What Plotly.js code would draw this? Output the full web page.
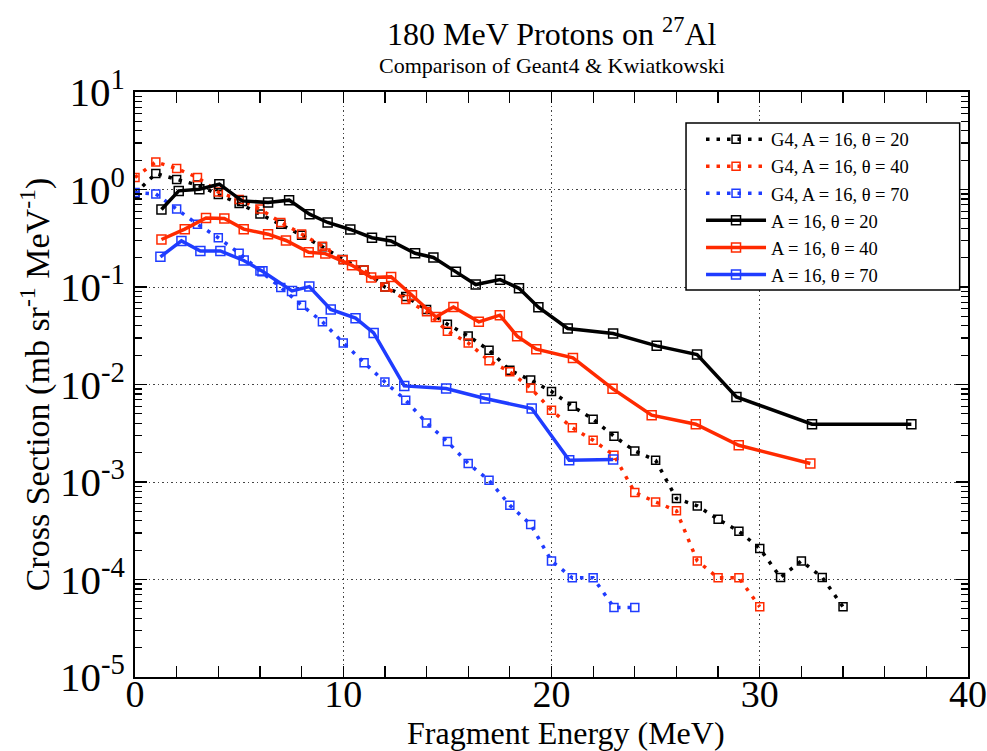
<!DOCTYPE html>
<html>
<head>
<meta charset="utf-8">
<script src="https://cdn.plot.ly/plotly-3.0.1.min.js"></script>
<style>html,body{margin:0;padding:0;background:#fff;}#chart{width:987px;height:751px;}</style>
</head>
<body>
<div id="chart"></div>
<script>
// ---- Data ----
// Geant4 curves (1 MeV bins)
const g4E20 = [0,1,2,3,4,5,6,7,8,9,10,11,12,13,14,15,16,17,18,19,20,21,22,23,24,25,26,27,28,29,30,31,32,33,34];
const g4Y20 = [0.91,1.46,1.27,1.11,0.89,0.72,0.56,0.44,0.34,0.258,0.191,0.149,0.100,0.080,0.0588,0.0415,0.0315,0.0225,0.014,0.0111,0.00848,0.00599,0.0044,0.00295,0.00208,0.00167,0.000678,0.000569,0.000415,0.000313,0.000208,0.000105,0.000155,0.000105,0.0000524];

const g4E40 = [0,1,2,3,4,5,6,7,8,9,10,11,12,13,14,15,16,17,18,19,20,21,22,23,24,25,26,27,28,29,30];
const g4Y40 = [1.33,1.92,1.64,1.33,0.94,0.79,0.63,0.46,0.35,0.262,0.19,0.149,0.100,0.0745,0.0556,0.0352,0.0267,0.0175,0.0135,0.0092,0.00545,0.0036,0.00268,0.00188,0.00078,0.000625,0.000506,0.000155,0.000104,0.000104,0.0000524];

const g4E70 = [0,1,2,3,4,5,6,7,8,9,10,11,12,13,14,15,16,17,18,19,20,21,22,23,24];
const g4Y70 = [0.93,0.90,0.63,0.44,0.32,0.222,0.146,0.099,0.065,0.0439,0.0267,0.0167,0.0106,0.0069,0.00404,0.0026,0.00155,0.00104,0.000578,0.000366,0.000155,0.000104,0.000104,0.0000516,0.0000516];

// Kwiatkowski data
const kwE20 = [1.27,2.10,3.09,4.05,5.14,6.39,7.40,8.38,9.25,10.34,11.38,12.29,13.45,14.33,15.41,16.36,17.53,18.44,19.37,20.78,22.96,25.05,26.99,28.88,32.51,37.28];
const kwY20 = [0.624,0.968,1.007,1.133,0.764,0.736,0.777,0.558,0.459,0.389,0.32,0.297,0.222,0.201,0.143,0.106,0.119,0.097,0.062,0.0375,0.0333,0.0249,0.0203,0.00746,0.00392,0.00392];

const kwE40 = [1.27,2.39,3.41,4.29,5.22,6.39,7.25,8.34,9.14,10.42,11.34,12.30,13.30,14.45,15.29,16.51,17.52,18.35,19.27,21.03,22.93,24.81,26.93,28.99,32.43];
const kwY40 = [0.307,0.392,0.511,0.504,0.392,0.348,0.30,0.227,0.22,0.167,0.125,0.127,0.0824,0.0493,0.0625,0.0439,0.0514,0.0313,0.023,0.01875,0.00906,0.00484,0.00391,0.00238,0.00155];

const kwE70 = [1.22,2.23,3.14,4.10,5.22,6.12,7.54,8.37,9.40,10.59,11.46,12.93,14.94,16.81,19.05,20.85,22.96];
const kwY70 = [0.204,0.297,0.234,0.234,0.187,0.145,0.0912,0.101,0.0588,0.0479,0.0338,0.00968,0.0091,0.00718,0.00567,0.00167,0.0017];

const names = ["G4, A = 16, θ = 20","G4, A = 16, θ = 40","G4, A = 16, θ = 70","A = 16, θ = 20","A = 16, θ = 40","A = 16, θ = 70"];
const xTicks = [0,10,20,30,40];
const xTickText = ["0","10","20","30","40"];
const yTicks = [1e-5,1e-4,1e-3,1e-2,1e-1,1,10];
const yTickText = ["10<sup>-5</sup>","10<sup>-4</sup>","10<sup>-3</sup>","10<sup>-2</sup>","10<sup>-1</sup>","10<sup>0</sup>","10<sup>1</sup>"];

// ---- styling ----
const BLACK = "#000000", RED = "#ff2a00", BLUE = "#1f3cff";
const FONT = "Liberation Serif, Times New Roman, serif";

function g4(x, y, c, n) {
  return {x, y, name: n, type: "scatter", mode: "lines+markers",
    line: {color: c, width: 3.5, dash: "3.5px,7px"},
    marker: {symbol: "square-open", size: 8, color: c, line: {width: 1.5, color: c}}};
}
function kw(x, y, c, n) {
  return {x, y, name: n, type: "scatter", mode: "lines+markers",
    line: {color: c, width: 3.5},
    marker: {symbol: "square-open", size: 9, color: c, line: {width: 1.5, color: c}}};
}

const traces = [
  g4(g4E20, g4Y20, BLACK, names[0]),
  g4(g4E40, g4Y40, RED, names[1]),
  g4(g4E70, g4Y70, BLUE, names[2]),
  kw(kwE20, kwY20, BLACK, names[3]),
  kw(kwE40, kwY40, RED, names[4]),
  kw(kwE70, kwY70, BLUE, names[5])
];

const minorY = [];
for (let d = -5; d < 1; d++) for (let k = 2; k <= 9; k++) minorY.push(k * Math.pow(10, d));

const layout = {
  width: 987, height: 751,
  margin: {l: 135, r: 19, t: 92, b: 74},
  paper_bgcolor: "#fff", plot_bgcolor: "#fff",
  font: {family: FONT, color: "#000"},
  showlegend: true,
  legend: {x: 0.6795, y: 0.951, xanchor: "left", yanchor: "top",
    bgcolor: "rgba(0,0,0,0)", borderwidth: 0,
    font: {family: FONT, size: 18.5, color: "#000"}, itemwidth: 60, tracegroupgap: 0},
  shapes: [
    {type: "rect", xref: "paper", yref: "paper", x0: 0.6615, x1: 0.990, y0: 0.6615, y1: 0.947,
     layer: "above", fillcolor: "#fff", line: {color: "#000", width: 1.5}}
  ],
  xaxis: {range: [0, 40], tickmode: "array", tickvals: xTicks, ticktext: xTickText,
    ticks: "inside", ticklen: 11, tickwidth: 1.2, tickcolor: "#000", ticklabelstandoff: -18,
    mirror: "allticks", showline: true, linewidth: 2, linecolor: "#000",
    showgrid: true, gridcolor: "#444", griddash: "1.5px,3px", gridwidth: 1, zeroline: false,
    minor: {dtick: 2, ticks: "inside", ticklen: 11, tickwidth: 1.2, tickcolor: "#000", showgrid: false},
    tickfont: {family: FONT, size: 38}},
  yaxis: {type: "log", range: [-5, 1], tickmode: "array", tickvals: yTicks, ticktext: yTickText,
    ticks: "inside", ticklen: 12, tickwidth: 1.2, tickcolor: "#000",
    mirror: "allticks", showline: true, linewidth: 2, linecolor: "#000",
    showgrid: true, gridcolor: "#444", griddash: "1.5px,3px", gridwidth: 1, zeroline: false,
    minor: {tickmode: "array", tickvals: minorY, ticks: "inside", ticklen: 7, tickwidth: 1.2, tickcolor: "#000", showgrid: false},
    tickfont: {family: FONT, size: 41},
    title: {text: "Cross Section (mb sr<sup>-1</sup> MeV<sup>-1</sup>)", font: {family: FONT, size: 34}, standoff: 0}},
  annotations: [
    {text: "180 MeV Protons on <sup>27</sup>Al", xref: "paper", yref: "paper", x: 0.5, y: 1.102,
     xanchor: "center", yanchor: "middle", showarrow: false, font: {family: FONT, size: 32}},
    {text: "Comparison of Geant4 & Kwiatkowski", xref: "paper", yref: "paper", x: 0.5, y: 1.046,
     xanchor: "center", yanchor: "middle", showarrow: false, font: {family: FONT, size: 22}},
    {text: "Fragment Energy (MeV)", xref: "paper", yref: "paper", x: 0.517, y: -0.096,
     xanchor: "center", yanchor: "middle", showarrow: false, font: {family: FONT, size: 32}}
  ]
};

Plotly.newPlot("chart", traces, layout, {displayModeBar: false, staticPlot: true});
</script>
</body>
</html>
